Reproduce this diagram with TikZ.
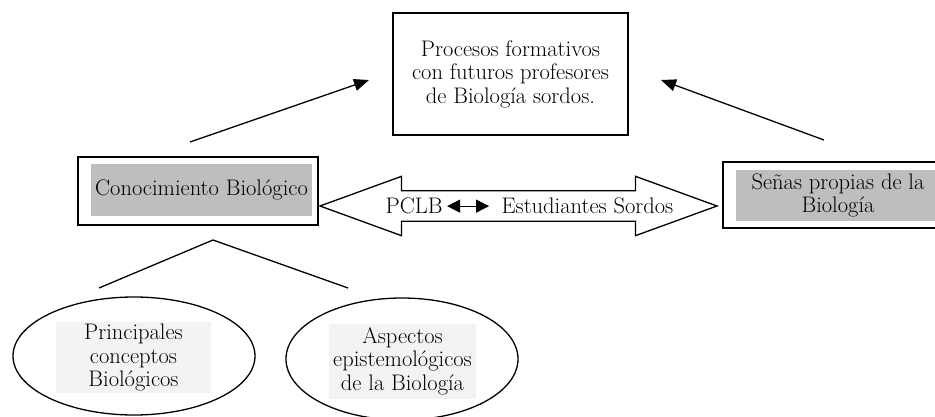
\documentclass[tikz,border=0pt]{standalone}
\usepackage{fontspec}
\usetikzlibrary{positioning}
\usetikzlibrary{shapes.geometric}
\usetikzlibrary{shapes.arrows}
\usetikzlibrary{arrows.meta}
\definecolor{gris}{RGB}{190,190,192}
\definecolor{grisclaro}{RGB}{243,243,243}
\begin{document}
\begin{tikzpicture}[x=1pt,y=-1pt,line width=1.3pt,
		every node/.style={font=\fontsize{22.5}{23.5}\selectfont},
		>={Triangle[length=15pt,width=12pt]}]
		\tikzstyle{marco}=[draw,rectangle,inner sep=0pt,align=center]
		\tikzstyle{fondo}=[rectangle,fill=gris,inner sep=0pt,align=center]
		\tikzstyle{claro}=[rectangle,fill=grisclaro,inner sep=0pt,align=center]
		\tikzstyle{burbuja}=[draw,ellipse,inner sep=0pt]
		
		\useasboundingbox (0,0) rectangle (935,417);
		
		\node[marco,minimum width=235pt,minimum height=122pt] (procesos) at (510.5,74)
		{Procesos formativos\\con futuros profesores\\de Biología sordos.};
		
		\node[marco,minimum width=240pt,minimum height=68pt] (conocimiento) at (198,191) {};
		\node[fondo,minimum width=221pt,minimum height=52pt] (conocimientoTexto) at (201.5,190) {Conocimiento Biológico};
		
		\node[marco,minimum width=237pt,minimum height=66pt] (senas) at (841.5,195) {};
		\node[fondo,minimum width=204pt,minimum height=51pt] (senasTexto) at (838,195.5) {Señas propias de la\\Biología};
		
		\node[burbuja,minimum width=242pt,minimum height=118pt] (conceptos) at (134,356) {};
		\node[claro,minimum width=155pt,minimum height=71pt] (conceptosTexto) at (133.5,357.5) {Principales\\conceptos\\Biológicos};
		\node[burbuja,minimum width=232pt,minimum height=122pt] (aspectos) at (402,359) {};
		\node[claro,minimum width=147pt,minimum height=75pt] (aspectosTexto) at (402.5,361) {Aspectos\\epistemológicos\\de la Biología};
		
		% flecha doble entre los dos recuadros
		\node[draw,double arrow,double arrow head extend=14.5pt,double arrow tip angle=40,
		minimum height=397pt,minimum width=0pt,inner xsep=0pt,inner ysep=14.5pt] (vinculo) at (518.5,206) {};
		\node[anchor=base,inner sep=0pt] (vinculoTexto) at (529.5,214)
		{PCLB\hspace{4pt}\tikz[baseline=-0.35em]\draw[{Triangle[length=13pt,width=13pt]}-{Triangle[length=13pt,width=13pt]},line width=1pt] (0pt,0pt) -- (42pt,0pt);\hspace{12pt}Estudiantes Sordos};
		
		\coordinate (c_1) at (190,142);
		\coordinate (c_2) at (369,80);
		\coordinate (s_1) at (824,140);
		\coordinate (s_2) at (661,80);
		\draw[->] (c_1) -- (c_2);
		\draw[->] (s_1) -- (s_2);
		
		\coordinate (rama) at (213,240);
		\coordinate (ramaIzq) at (99,288);
		\coordinate (ramaDer) at (348,288);
		\draw (ramaIzq) -- (rama) -- (ramaDer);
		\end{tikzpicture}
\end{document}
